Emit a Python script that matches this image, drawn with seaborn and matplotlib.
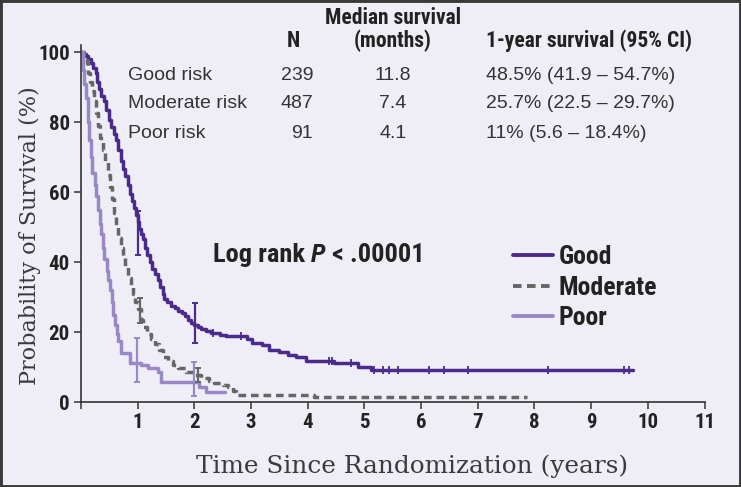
import numpy as np
import pandas as pd
import matplotlib
matplotlib.use("Agg")
import matplotlib.pyplot as plt
import seaborn as sns
from matplotlib.patches import Rectangle

# Kaplan-Meier curves (time in years, survival in %)
good_time = [0, 0.04, 0.08, 0.13, 0.18, 0.22, 0.26, 0.29, 0.32, 0.36, 0.40, 0.44, 0.49, 0.53,
             0.58, 0.62, 0.66, 0.70, 0.74, 0.78, 0.83, 0.87, 0.90, 0.93, 0.97, 1.00, 1.03,
             1.06, 1.09, 1.13, 1.17, 1.21, 1.26, 1.31, 1.36, 1.40, 1.44, 1.47, 1.52, 1.58,
             1.65, 1.72, 1.78, 1.84, 1.89, 1.94, 1.99, 2.06, 2.12, 2.20, 2.30, 2.45, 2.55,
             2.93, 3.02, 3.20, 3.32, 3.50, 3.65, 3.80, 3.97, 4.46, 4.89, 5.11, 9.74]
good_surv = [100, 99.5, 98.8, 97.9, 97.0, 95.5, 94.0, 91.5, 89.5, 87.5, 86.0, 83.5, 80.5, 78.5,
             76.5, 75.0, 72.0, 69.0, 66.5, 64.5, 62.0, 59.5, 57.5, 55.5, 53.5, 51.5, 49.5,
             48.0, 46.5, 44.0, 42.0, 40.0, 38.0, 36.5, 35.0, 33.0, 31.0, 29.5, 28.5, 27.5,
             27.0, 26.0, 25.5, 24.5, 23.5, 22.5, 22.0, 21.5, 21.0, 20.3, 19.8, 19.2, 18.9,
             18.0, 16.9, 16.3, 15.0, 14.3, 13.4, 12.8, 11.7, 11.1, 10.0, 9.2, 9.2]

moderate_time = [0, 0.06, 0.10, 0.13, 0.16, 0.20, 0.23, 0.26, 0.30, 0.34, 0.39, 0.43, 0.48,
                 0.51, 0.54, 0.58, 0.62, 0.66, 0.70, 0.74, 0.78, 0.83, 0.88, 0.92, 0.96, 1.00,
                 1.05, 1.10, 1.17, 1.23, 1.30, 1.37, 1.45, 1.53, 1.62, 1.72, 1.85, 1.99, 2.12,
                 2.25, 2.35, 2.50, 2.60, 2.68, 2.73, 4.11, 7.86]
moderate_surv = [100, 99.0, 97.0, 94.0, 91.5, 89.0, 86.0, 82.5, 79.0, 75.5, 72.0, 68.5, 65.0,
                 61.5, 58.0, 54.0, 50.5, 47.0, 44.0, 41.5, 38.5, 35.5, 33.0, 31.0, 28.5, 26.5,
                 23.5, 21.5, 19.5, 18.0, 16.5, 14.8, 13.0, 11.7, 10.6, 9.6, 8.6, 7.7, 6.9,
                 6.0, 5.4, 4.8, 4.3, 3.2, 2.0, 1.4, 1.4]

poor_time = [0, 0.03, 0.06, 0.09, 0.12, 0.14, 0.17, 0.20, 0.24, 0.27, 0.30, 0.33, 0.35, 0.38,
             0.41, 0.45, 0.48, 0.51, 0.54, 0.57, 0.60, 0.63, 0.66, 0.71, 0.86, 1.06, 1.18,
             1.36, 1.41, 2.08, 2.20, 2.54]
poor_surv = [100, 95.0, 91.0, 87.0, 80.0, 75.0, 70.0, 65.5, 62.0, 59.0, 55.0, 51.0, 48.0, 44.0,
             41.0, 37.5, 35.0, 32.0, 28.5, 25.0, 22.0, 19.5, 17.5, 14.0, 11.1, 10.6, 9.7,
             8.6, 5.7, 4.3, 2.9, 2.9]

# censoring marks on the good-risk curve
good_censor = [2.33, 2.82, 4.37, 4.43, 4.76, 5.17, 5.33, 5.43, 5.59, 6.14, 6.40, 6.83, 8.24,
               9.58, 9.67]

# 95% CI bars at 1 and 2 years
ci_group = ["Good", "Good", "Moderate", "Moderate", "Poor", "Poor"]
ci_time = [1.01, 2.02, 1.04, 2.06, 0.99, 1.99]
ci_est = [48.5, 22.0, 25.7, 7.7, 11.0, 5.7]
ci_low = [41.9, 16.9, 22.5, 5.7, 5.6, 1.7]
ci_high = [54.7, 28.3, 29.7, 9.7, 18.4, 11.4]

# table in the top of the panel
table_labels = ["Good risk", "Moderate risk", "Poor risk"]
table_n = ["239", "487", "91"]
table_median = ["11.8", "7.4", "4.1"]
table_1yr = ["48.5% (41.9 – 54.7%)", "25.7% (22.5 – 29.7%)", "11% (5.6 – 18.4%)"]

groups = ["Good", "Moderate", "Poor"]
palette = {"Good": "#4b2a8b", "Moderate": "#666666", "Poor": "#9a88c5"}
bg = "#efeef7"

COND = ["Roboto Condensed", "DejaVu Sans"]
REG = ["Liberation Sans", "DejaVu Sans"]
SERIF = ["DejaVu Serif"]

sns.set_style("ticks")
plt.rcParams["font.family"] = COND
plt.rcParams["font.stretch"] = "condensed"

df = pd.concat([
    pd.DataFrame({"time": good_time, "surv": good_surv, "group": "Good"}),
    pd.DataFrame({"time": moderate_time, "surv": moderate_surv, "group": "Moderate"}),
    pd.DataFrame({"time": poor_time, "surv": poor_surv, "group": "Poor"}),
], ignore_index=True)

fig = plt.figure(figsize=(7.41, 4.87), dpi=100)
fig.patch.set_facecolor(bg)
ax = fig.add_axes([81 / 741, 1 - 402 / 487, (704.5 - 81) / 741, 357 / 487])
ax.set_facecolor(bg)

sns.lineplot(data=df, x="time", y="surv", hue="group", style="group", hue_order=groups,
             style_order=groups, palette=palette,
             dashes={"Good": "", "Moderate": (2.2, 1.4), "Poor": ""},
             drawstyle="steps-post", estimator=None, sort=False, lw=2.5, ax=ax)

# censor ticks
idx = np.searchsorted(good_time, good_censor, side="right") - 1
cens_y = np.array(good_surv)[idx]
ax.scatter(good_censor, cens_y, marker="|", s=40, color=palette["Good"], linewidths=1.3,
           zorder=3)

# confidence bars
for g, t, e, lo, hi in zip(ci_group, ci_time, ci_est, ci_low, ci_high):
    ax.errorbar([t], [e], yerr=[[e - lo], [hi - e]], fmt="none", ecolor=palette[g],
                elinewidth=1.6, capsize=2.5, capthick=1.4, zorder=4)

ax.set_xlim(0, 11)
ax.set_ylim(0, 102)
ax.set_xticks(range(0, 12))
ax.set_xticklabels([""] + [str(i) for i in range(1, 12)])
ax.set_yticks([0, 20, 40, 60, 80, 100])
for s in ["top", "right"]:
    ax.spines[s].set_visible(False)
for s in ["left", "bottom"]:
    ax.spines[s].set_color("#333333")
    ax.spines[s].set_linewidth(1.2)
ax.tick_params(length=5, width=1.1, color="#333333", labelsize=15, pad=3,
               labelcolor="#222222")
for lab in ax.get_xticklabels() + ax.get_yticklabels():
    lab.set_fontweight("bold")
    lab.set_family(COND)

ax.set_xlabel("Time Since Randomization (years)", family=SERIF, fontsize=17.8,
              color="#3a3a3a", va="top", stretch="normal")
ax.xaxis.set_label_coords((412 - 81) / 623.5, (402 - 454) / 357)
ax.set_ylabel("Probability of Survival (%)", family=SERIF, fontsize=16,
              color="#3a3a3a", stretch="normal")
ax.yaxis.set_label_coords((41 - 81) / 623.5, (402 - 236) / 357)

sns.move_legend(ax, "upper left", bbox_to_anchor=(513 / 741, 1 - 245 / 487),
                bbox_transform=fig.transFigure, frameon=False, title=None,
                handlelength=1.55, handletextpad=0.22, labelspacing=0.26, borderpad=0,
                borderaxespad=0, prop=dict(family=COND, weight="bold", size=18.5))
for line in ax.get_legend().get_lines():
    line.set_linewidth(2.8)
for t in ax.get_legend().get_texts():
    t.set_color("#222222")


def fx(x):
    return x / 741


def fy(y):
    return 1 - y / 487


# table
head = dict(family=COND, weight="bold", fontsize=15.5, color="#222222", va="center")
fig.text(fx(293), fy(41), "N", ha="center", **head)
fig.text(fx(393), fy(18), "Median survival", ha="center", **head)
fig.text(fx(393), fy(41), "(months)", ha="center", **head)
fig.text(fx(486), fy(41), "1-year survival (95% CI)", ha="left", **head)
body = dict(family=REG, fontsize=14, color="#333333", va="center", stretch="normal")
for i, yy in enumerate([75, 104, 133]):
    fig.text(fx(128), fy(yy), table_labels[i], ha="left", **body)
    fig.text(fx(313), fy(yy), table_n[i], ha="right", **body)
    fig.text(fx(393), fy(yy), table_median[i], ha="center", **body)
    fig.text(fx(486), fy(yy), table_1yr[i], ha="left", **body)

# log rank annotation, P in italics
renderer = fig.canvas.get_renderer()
lr = dict(family=COND, weight="bold", fontsize=19, color="#222222", va="baseline")
t1 = fig.text(fx(213), fy(262), "Log rank ", ha="left", **lr)
x1 = fig.transFigure.inverted().transform(t1.get_window_extent(renderer))[1, 0]
t2 = fig.text(x1, fy(262), "P", ha="left", style="italic", **lr)
x2 = fig.transFigure.inverted().transform(t2.get_window_extent(renderer))[1, 0]
fig.text(x2, fy(262), " < .00001", ha="left", **lr)

fig.patches.append(Rectangle((0, 0), 1, 1, transform=fig.transFigure, fill=False,
                             ec="#3a3a3a", lw=3.5, zorder=10))

fig.savefig("out.png", dpi=100, facecolor=bg)
